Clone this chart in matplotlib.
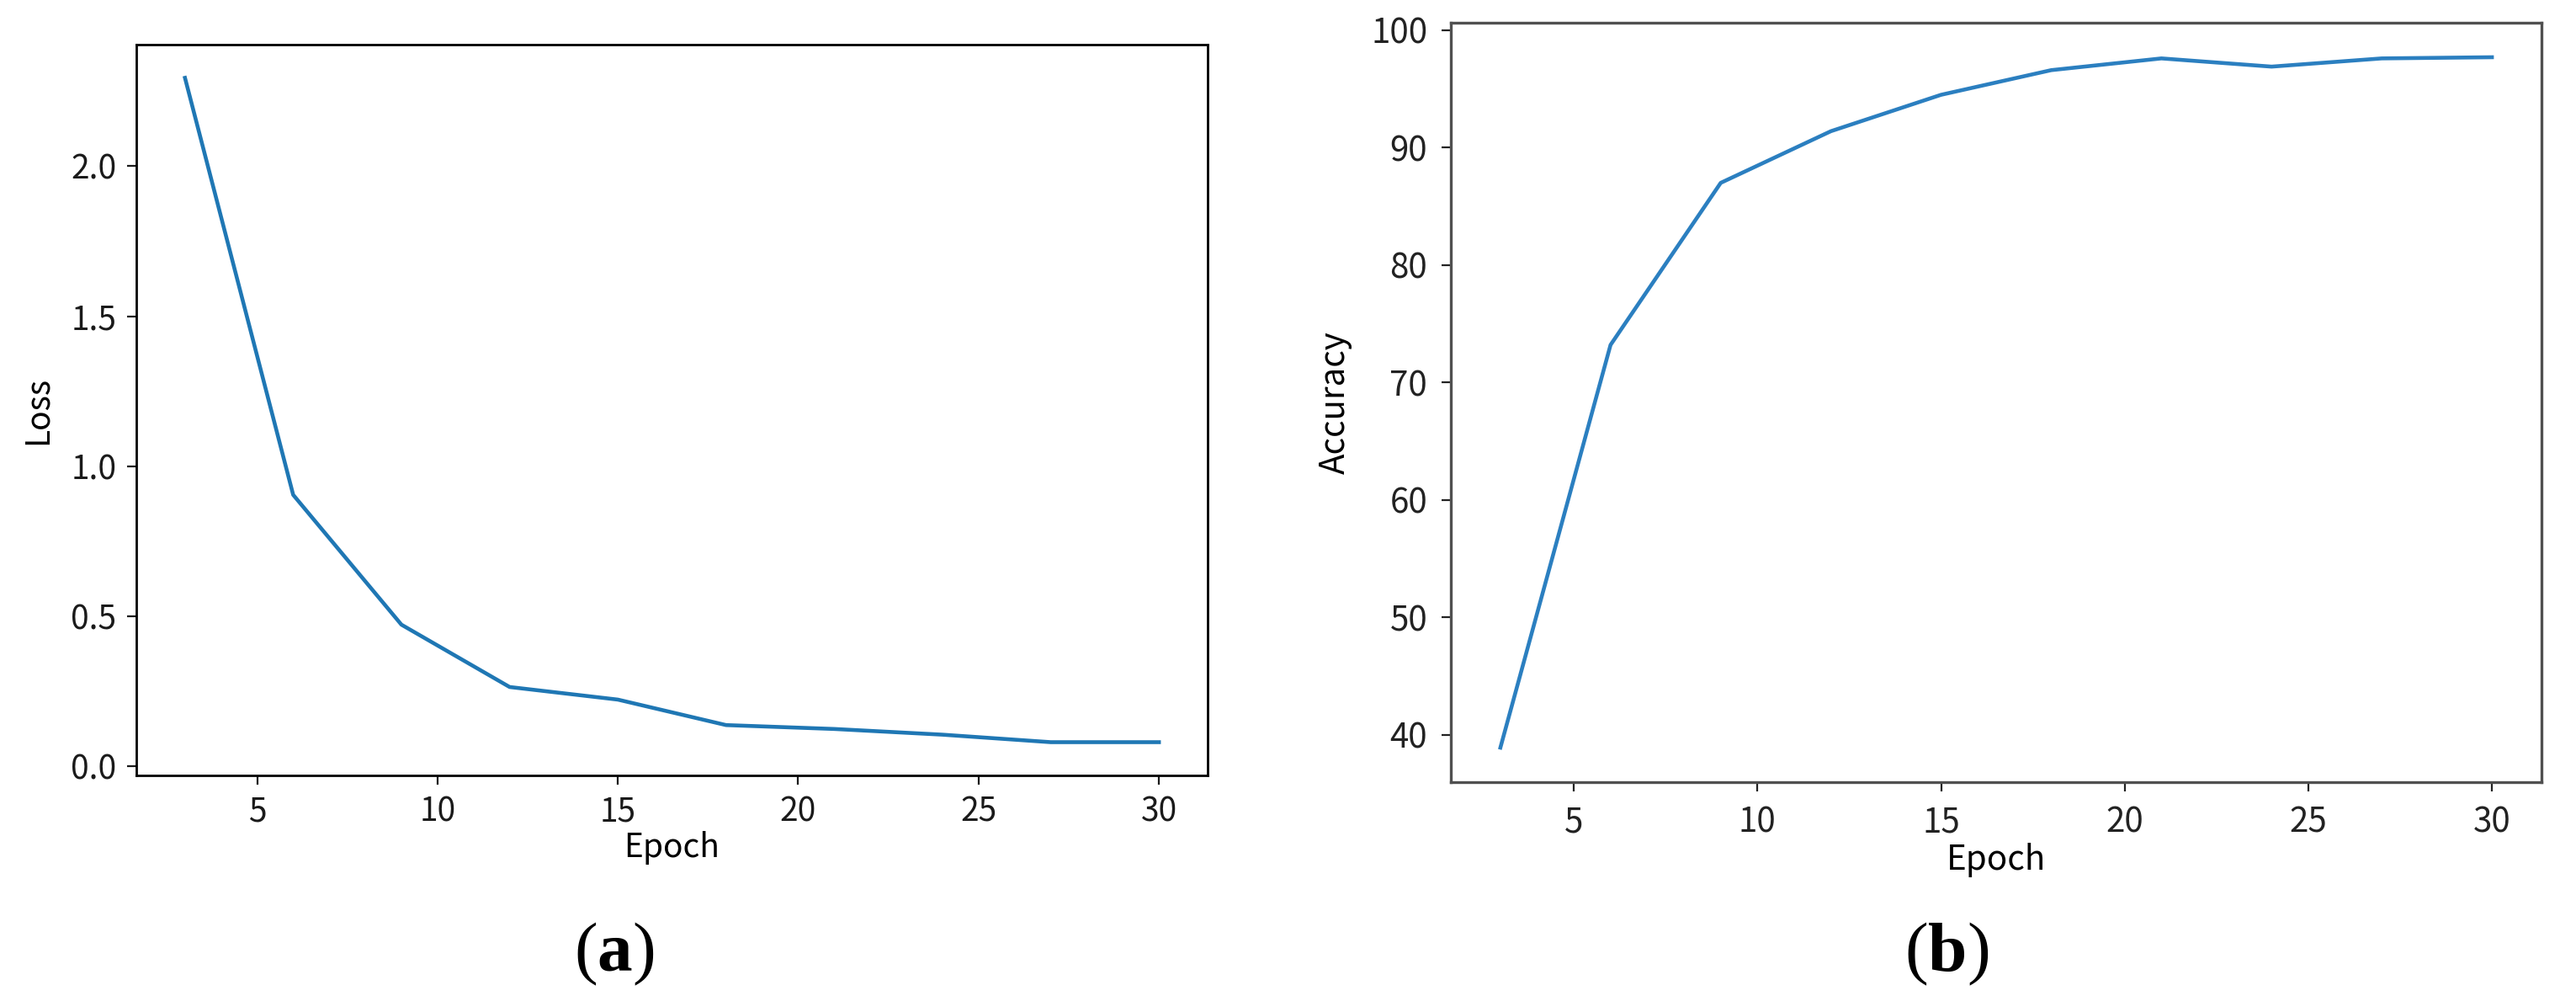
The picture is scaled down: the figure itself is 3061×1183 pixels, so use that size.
import numpy as np
import matplotlib.pyplot as plt

plt.rcParams['font.family'] = ['Noto Sans CJK SC', 'DejaVu Sans']
plt.rcParams['mathtext.fontset'] = 'custom'
plt.rcParams['mathtext.rm'] = 'Liberation Serif'
plt.rcParams['mathtext.bf'] = 'Liberation Serif:bold'

# data
epochs = [3, 6, 9, 12, 15, 18, 21, 24, 27, 30]
loss = [2.295, 0.904, 0.471, 0.263, 0.221, 0.136, 0.123, 0.104, 0.079, 0.079]
accuracy = [38.9, 73.2, 87.0, 91.4, 94.5, 96.6, 97.6, 96.9, 97.6, 97.7]

fig = plt.figure(figsize=(30.61, 11.83), dpi=100)
ax1 = fig.add_axes([0.0529, 0.2215, 0.4159, 0.7337])
ax2 = fig.add_axes([0.5632, 0.2147, 0.4234, 0.7625])

fs = 28

ax1.plot(epochs, loss, color='#1f77b4', lw=3.3)
ax1.set_xticks([5, 10, 15, 20, 25, 30])
ax1.set_yticks([0.0, 0.5, 1.0, 1.5, 2.0])
ax1.set_xlabel('Epoch', fontsize=fs, labelpad=2)
ax1.set_ylabel('Loss', fontsize=fs, labelpad=14)
ax1.tick_params(labelsize=fs, length=8, width=1.6, pad=9, colors='#1a1a1a')
for s in ax1.spines.values():
    s.set_linewidth(2.0)

ax2.plot(epochs, accuracy, color='#2b7fc0', lw=3.3)
ax2.set_xticks([5, 10, 15, 20, 25, 30])
ax2.set_yticks([40, 50, 60, 70, 80, 90, 100])
ax2.set_xlabel('Epoch', fontsize=fs + 1, labelpad=2)
ax2.set_ylabel('Accuracy', fontsize=fs + 1, labelpad=16)
ax2.tick_params(labelsize=fs + 1, length=8, width=1.6, pad=12, colors='#222222')
for s in ax2.spines.values():
    s.set_linewidth(2.4)
    s.set_color('#505050')

fig.text(0.2385, 0.045, r'$(\mathbf{a})$', fontsize=60, ha='center', va='center')
fig.text(0.7556, 0.045, r'$(\mathbf{b})$', fontsize=60, ha='center', va='center')

fig.savefig('out.png', dpi=100)
